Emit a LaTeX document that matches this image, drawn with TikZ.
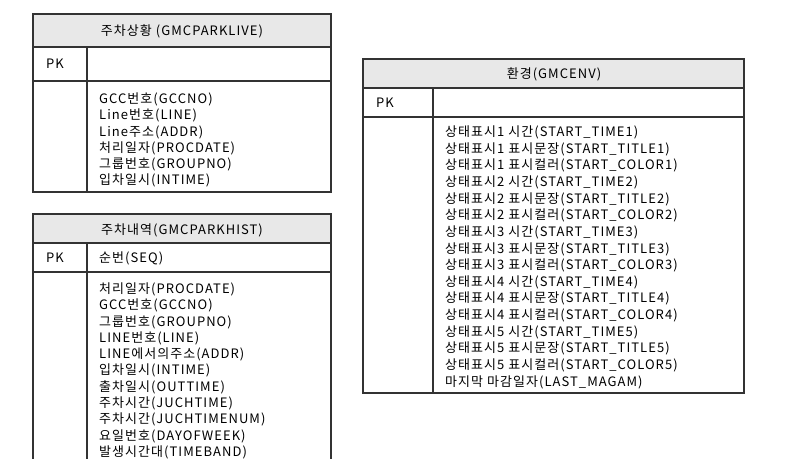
\documentclass[tikz,border=0pt]{standalone}
\usepackage{fontspec}
\setmainfont[LetterSpace=8]{Noto Sans CJK KR}
\begin{document}
\begin{tikzpicture}[x=1pt,y=-1pt,
  frame/.style={draw=black!80,line width=1.6pt},
  head/.style={fill=black!9},
  ttl/.style={font=\fontsize{13}{14}\selectfont,inner sep=0pt},
  lst/.style={font=\fontsize{13}{16.3}\selectfont,inner sep=0pt,anchor=north west,align=left},
  lst3/.style={font=\fontsize{13}{16.65}\selectfont,inner sep=0pt,anchor=north west,align=left}]
\useasboundingbox (0,0) rectangle (803,458);
\clip (0,0) rectangle (803,458);
% Box 1
\fill[head] (33,14) rectangle (331,47);
\draw[frame] (33,14) rectangle (331,192);
\draw[frame] (33,47) -- (331,47) (33,81) -- (331,81) (87,47) -- (87,192);
\node[ttl] (t1) at (182,31) {주차상황 (GMCPARKLIVE)};
\node[ttl,anchor=west] (pk1) at (46,64) {PK};
\node[lst] (l1) at (99,92.5) {GCC번호(GCCNO)\\Line번호(LINE)\\Line주소(ADDR)\\처리일자(PROCDATE)\\그룹번호(GROUPNO)\\입차일시(INTIME)};
% Box 2
\fill[head] (33,214) rectangle (331,243);
\draw[frame] (33,480) -- (33,214) -- (331,214) -- (331,480);
\draw[frame] (33,243) -- (331,243) (33,272) -- (331,272) (87,243) -- (87,480);
\node[ttl] (t2) at (182,230) {주차내역(GMCPARKHIST)};
\node[ttl,anchor=west] (pk2) at (46,258) {PK};
\node[ttl,anchor=west] (seq) at (99,258) {순번(SEQ)};
\node[lst] (l2) at (99,282.5) {처리일자(PROCDATE)\\GCC번호(GCCNO)\\그룹번호(GROUPNO)\\LINE번호(LINE)\\LINE에서의주소(ADDR)\\입차일시(INTIME)\\출차일시(OUTTIME)\\주차시간(JUCHTIME)\\주차시간(JUCHTIMENUM)\\요일번호(DAYOFWEEK)\\발생시간대(TIMEBAND)};
% Box 3
\fill[head] (363,59) rectangle (744,88);
\draw[frame] (363,59) rectangle (744,393);
\draw[frame] (363,88) -- (744,88) (363,117) -- (744,117) (433,88) -- (433,393);
\node[ttl] (t3) at (554,74) {환경(GMCENV)};
\node[ttl,anchor=west] (pk3) at (376,103) {PK};
\node[lst3] (l3) at (445,125.5) {상태표시1 시간(START\_TIME1)\\상태표시1 표시문장(START\_TITLE1)\\상태표시1 표시컬러(START\_COLOR1)\\상태표시2 시간(START\_TIME2)\\상태표시2 표시문장(START\_TITLE2)\\상태표시2 표시컬러(START\_COLOR2)\\상태표시3 시간(START\_TIME3)\\상태표시3 표시문장(START\_TITLE3)\\상태표시3 표시컬러(START\_COLOR3)\\상태표시4 시간(START\_TIME4)\\상태표시4 표시문장(START\_TITLE4)\\상태표시4 표시컬러(START\_COLOR4)\\상태표시5 시간(START\_TIME5)\\상태표시5 표시문장(START\_TITLE5)\\상태표시5 표시컬러(START\_COLOR5)\\마지막 마감일자(LAST\_MAGAM)};
\end{tikzpicture}
\end{document}
